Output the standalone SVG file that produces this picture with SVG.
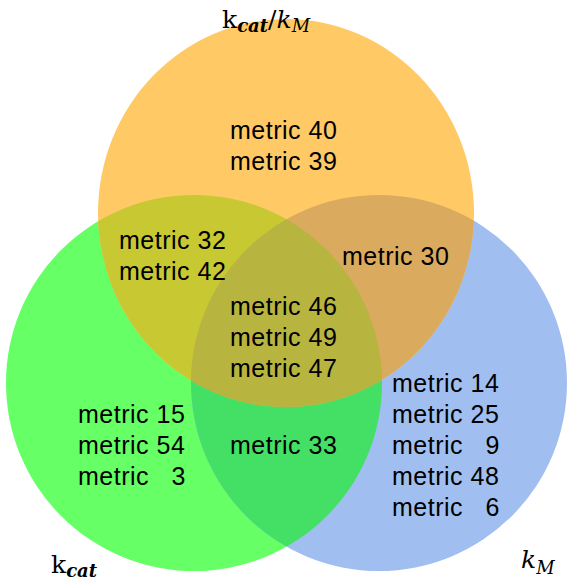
<svg xmlns="http://www.w3.org/2000/svg" width="571" height="587" viewBox="0 0 571 587">
<style>
.t{font-family:"Liberation Sans",Arial,sans-serif;font-size:25px;letter-spacing:0.5px;fill:#000;white-space:pre}
.m{font-family:"DejaVu Serif","Liberation Serif",serif;fill:#000}
.big{font-size:25px}
.sub{font-size:18px}
</style>
<defs>
<clipPath id="cg"><circle cx="194" cy="383" r="188"/></clipPath>
<clipPath id="cb"><circle cx="379" cy="383" r="188"/></clipPath>
</defs>
<g id="circles">
<circle id="kcat-set" cx="194" cy="383" r="188" fill="#66FF66"/>
<circle id="kM-set" cx="379" cy="383" r="188" fill="#A0BFF0"/>
<ellipse id="kcatkM-set" cx="286" cy="213" rx="188" ry="194" fill="#FFC966"/>
<circle cx="379" cy="383" r="188" fill="#44E066" clip-path="url(#cg)"/>
<ellipse cx="286" cy="213" rx="188" ry="194" fill="#C8C832" clip-path="url(#cg)"/>
<ellipse cx="286" cy="213" rx="188" ry="194" fill="#DAAA5E" clip-path="url(#cb)"/>
<g clip-path="url(#cb)"><ellipse cx="286" cy="213" rx="188" ry="194" fill="#B8B440" clip-path="url(#cg)"/></g>
</g>
<g id="labels">
<text class="m" x="222" y="28"><tspan class="big">k</tspan><tspan class="sub" font-weight="bold" font-style="italic" dy="4">cat</tspan><tspan class="big" dy="-4">/</tspan><tspan class="big" font-style="italic">k</tspan><tspan class="sub" font-style="italic" dy="4">M</tspan></text>
<text class="m" x="51" y="573"><tspan class="big">k</tspan><tspan class="sub" font-weight="bold" font-style="italic" dy="4">cat</tspan></text>
<text class="m" x="521" y="568"><tspan class="big" font-style="italic">k</tspan><tspan class="sub" font-style="italic" dy="6">M</tspan></text>
</g>
<g id="region-o">
<text class="t" x="230" y="139">metric 40</text>
<text class="t" x="230" y="170">metric 39</text>
</g>
<g id="region-go">
<text class="t" x="119" y="249">metric 32</text>
<text class="t" x="119" y="280">metric 42</text>
</g>
<g id="region-ob">
<text class="t" x="342" y="265">metric 30</text>
</g>
<g id="region-center">
<text class="t" x="230" y="315">metric 46</text>
<text class="t" x="230" y="346">metric 49</text>
<text class="t" x="230" y="377">metric 47</text>
</g>
<g id="region-g">
<text class="t" x="78" y="423">metric 15</text>
<text class="t" x="78" y="454">metric 54</text>
<text class="t" x="78" y="485">metric   3</text>
</g>
<g id="region-gb">
<text class="t" x="230" y="454">metric 33</text>
</g>
<g id="region-b">
<text class="t" x="392" y="392">metric 14</text>
<text class="t" x="392" y="423">metric 25</text>
<text class="t" x="392" y="454">metric   9</text>
<text class="t" x="392" y="485">metric 48</text>
<text class="t" x="392" y="516">metric   6</text>
</g>
<g id="connectors"></g>
</svg>
